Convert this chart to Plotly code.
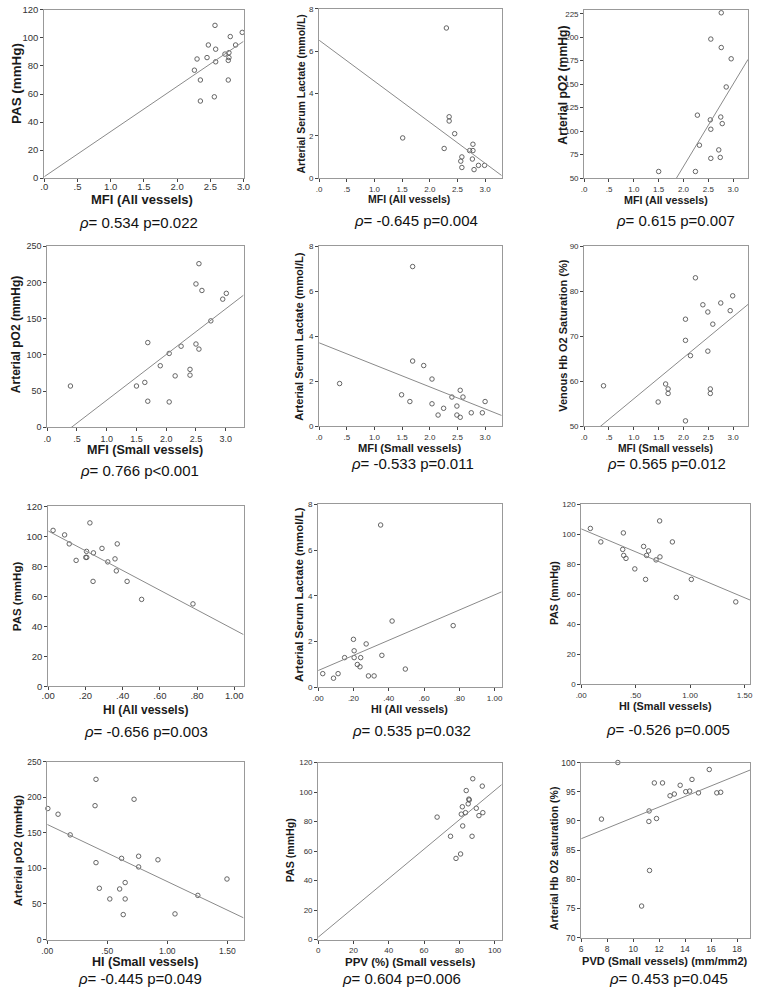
import plotly.graph_objects as go

W, H = 759, 992

# ---------------- data ----------------
# Panel 1: MFI (All vessels) vs PAS
p1_x = [2.57, 2.98, 2.80, 2.47, 2.88, 2.58, 2.72, 2.78, 2.45, 2.30, 2.78, 2.77, 2.58, 2.26, 2.35, 2.77, 2.56, 2.35]
p1_y = [109, 104, 101, 95, 95, 92, 88.5, 89.5, 86, 85, 86, 84, 83, 77, 70, 70, 58, 55]
# Panel 2: MFI (All vessels) vs Arterial Serum Lactate
p2_x = [2.30, 2.35, 2.35, 2.45, 1.51, 2.26, 2.78, 2.72, 2.78, 2.58, 2.77, 2.56, 2.88, 2.99, 2.58, 2.80]
p2_y = [7.1, 2.9, 2.7, 2.1, 1.9, 1.4, 1.6, 1.3, 1.3, 1.0, 0.9, 0.8, 0.6, 0.6, 0.5, 0.4]
# Panel 3: MFI (All vessels) vs Arterial pO2
p3_x = [2.76, 2.55, 2.76, 2.96, 2.86, 2.28, 2.75, 2.54, 2.78, 2.55, 2.32, 2.71, 2.55, 2.74, 1.50, 2.24]
p3_y = [226, 198, 189, 177, 147, 117, 115, 112, 108, 102, 85, 80, 71, 72, 57, 57]
# Panel 4: MFI (Small vessels) vs Arterial pO2
p4_x = [2.55, 2.50, 2.60, 3.01, 2.95, 2.75, 1.69, 2.50, 2.25, 2.55, 2.05, 1.90, 2.40, 2.40, 2.15, 1.64, 1.50, 0.39, 1.69, 2.05]
p4_y = [226, 198, 189, 185, 177, 147, 117, 115, 112, 108, 102, 85, 80, 72, 71, 62, 57, 57, 36, 35]
# Panel 5: MFI (Small vessels) vs Arterial Serum Lactate
p5_x = [1.69, 1.69, 1.89, 2.04, 0.37, 1.49, 2.55, 1.64, 2.40, 2.60, 3.00, 2.04, 2.49, 2.25, 2.75, 2.95, 2.15, 2.49, 2.55]
p5_y = [7.1, 2.9, 2.7, 2.1, 1.9, 1.4, 1.6, 1.1, 1.3, 1.3, 1.1, 1.0, 0.9, 0.8, 0.6, 0.6, 0.5, 0.5, 0.4]
# Panel 6: MFI (Small vessels) vs Venous Hb O2 Saturation
p6_x = [2.24, 2.99, 2.75, 2.39, 2.49, 2.94, 2.04, 2.59, 2.04, 2.49, 2.14, 0.39, 1.64, 1.69, 1.69, 2.54, 2.54, 1.49, 2.04]
p6_y = [83.0, 79.0, 77.4, 77.0, 75.4, 75.7, 73.8, 72.7, 69.1, 66.7, 65.7, 59.0, 59.4, 58.3, 57.3, 58.3, 57.3, 55.4, 51.2]
# Panel 7: HI (All vessels) vs PAS
p7_x = [0.026, 0.088, 0.224, 0.113, 0.371, 0.289, 0.206, 0.243, 0.150, 0.202, 0.207, 0.320, 0.359, 0.366, 0.241, 0.424, 0.502, 0.778]
p7_y = [104, 101, 109, 95, 95, 92, 90, 89, 84, 86, 86, 83, 85, 77, 70, 70, 58, 55]
# Panel 8: HI (All vessels) vs Arterial Serum Lactate
p8_x = [0.354, 0.419, 0.765, 0.200, 0.272, 0.204, 0.361, 0.150, 0.204, 0.241, 0.222, 0.237, 0.494, 0.026, 0.113, 0.087, 0.285, 0.317]
p8_y = [7.1, 2.9, 2.7, 2.1, 1.9, 1.6, 1.4, 1.3, 1.3, 1.3, 1.0, 0.9, 0.8, 0.6, 0.6, 0.4, 0.5, 0.5]
# Panel 9: HI (Small vessels) vs PAS
p9_x = [0.084, 0.18, 0.387, 0.72, 0.837, 0.573, 0.618, 0.381, 0.39, 0.411, 0.60, 0.687, 0.723, 0.492, 0.591, 1.011, 0.873, 1.419]
p9_y = [104, 95, 101, 109, 95, 92, 89, 90, 86, 84, 86, 83, 85, 77, 70, 70, 58, 55]
# Panel 10: HI (Small vessels) vs Arterial pO2
p10_x = [0.406, 0.723, 0.005, 0.398, 0.09, 0.191, 0.761, 0.619, 0.922, 0.406, 0.761, 1.497, 0.649, 0.434, 0.603, 1.254, 0.521, 0.649, 0.633, 1.064]
p10_y = [225, 197, 184, 188, 176, 147, 117, 114, 112, 108, 102, 85, 80, 72, 71, 62, 57, 57, 35, 36]
# Panel 11: PPV (%) (Small vessels) vs PAS
p11_x = [87.6, 93.0, 83.9, 85.4, 85.6, 85.0, 81.7, 89.6, 83.5, 81.1, 93.3, 91.1, 67.4, 81.9, 75.0, 87.2, 80.7, 78.1]
p11_y = [109, 104, 101, 95.2, 94.6, 92, 90, 89, 86, 85, 86, 84, 83, 77, 70, 70, 58, 55]
# Panel 12: PVD (Small vessels) vs Arterial Hb O2 saturation
p12_x = [8.82, 15.86, 12.26, 11.63, 14.53, 13.62, 14.35, 14.05, 16.74, 16.44, 15.03, 13.17, 12.84, 11.23, 7.56, 11.80, 11.21, 11.26, 10.65]
p12_y = [100.0, 98.8, 96.5, 96.5, 97.1, 96.1, 95.1, 95.0, 94.9, 94.8, 94.8, 94.6, 94.3, 91.7, 90.3, 90.4, 89.9, 81.5, 75.4]

# regression lines (intercept, slope)
fit_intercepts = [1.0, 6.52, -113.0, -25.7, 3.71, 47.0, 103.6, 0.735, 103.7, 161.6, 1.56, 81.51]
fit_slopes = [32.2, -1.94, 87.7, 63.1, -0.979, 9.12, -65.8, 3.31, -30.6, -80.2, 0.995, 0.905]

# titles and statistics
x_titles = ["MFI (All vessels)", "MFI (All vessels)", "MFI (All vessels)",
            "MFI (Small vessels)", "MFI (Small vessels)", "MFI (Small vessels)",
            "HI (All vessels)", "HI (All vessels)", "HI (Small vessels)",
            "HI (Small vessels)", "PPV (%) (Small vessels)", "PVD (Small vessels) (mm/mm2)"]
y_titles = ["PAS (mmHg)", "Arterial Serum Lactate (mmol/L)", "Arterial pO2 (mmHg)",
            "Arterial pO2 (mmHg)", "Arterial Serum Lactate (mmol/L)", "Venous Hb O2 Saturation (%)",
            "PAS (mmHg)", "Arterial Serum Lactate (mmol/L)", "PAS (mmHg)",
            "Arterial pO2 (mmHg)", "PAS (mmHg)", "Arterial Hb O2 saturation (%)"]
rho_values = ["0.534", "-0.645", "0.615", "0.766", "-0.533", "0.565",
              "-0.656", "0.535", "-0.526", "-0.445", "0.604", "0.453"]
p_values = ["p=0.022", "p=0.004", "p=0.007", "p<0.001", "p=0.011", "p=0.012",
            "p=0.003", "p=0.032", "p=0.005", "p=0.049", "p=0.006", "p=0.045"]

# tick labels
mfi_ticks = [0, 0.5, 1.0, 1.5, 2.0, 2.5, 3.0]
mfi_ticktext = [".0", ".5", "1.0", "1.5", "2.0", "2.5", "3.0"]
hi_all_ticks = [0, 0.2, 0.4, 0.6, 0.8, 1.0]
hi_all_ticktext = [".00", ".20", ".40", ".60", ".80", "1.00"]
hi_small_ticks = [0, 0.5, 1.0, 1.5]
hi_small_ticktext = [".00", ".50", "1.00", "1.50"]
ppv_ticks = [0, 20, 40, 60, 80, 100]
pvd_ticks = [6, 8, 10, 12, 14, 16, 18]
pas_ticks = [0, 20, 40, 60, 80, 100, 120]
lact_ticks = [0, 2, 4, 6, 8]
po2_ticks_a = [50, 75, 100, 125, 150, 175, 200, 225]
po2_ticks_b = [0, 50, 100, 150, 200, 250]
svo2_ticks = [50, 60, 70, 80, 90]
sao2_ticks = [70, 75, 80, 85, 90, 95, 100]

# ---------------- layout (pixel boxes) ----------------
xs = [p1_x, p2_x, p3_x, p4_x, p5_x, p6_x, p7_x, p8_x, p9_x, p10_x, p11_x, p12_x]
ys = [p1_y, p2_y, p3_y, p4_y, p5_y, p6_y, p7_y, p8_y, p9_y, p10_y, p11_y, p12_y]

boxes = [(38, 241, 4, 174), (318, 504, 3, 174), (588, 755, 4, 174),
         (41, 241, 243, 426), (318, 504, 243, 425), (588, 755, 243, 425),
         (42, 241, 506, 688), (317, 504, 504, 689), (585, 757, 504, 686),
         (41, 241, 764, 944), (317, 504, 765, 944), (585, 757, 765, 942)]
x_ranges = [(0, 3.0), (0, 3.3), (0, 3.3), (0, 3.3), (0, 3.3), (0, 3.3),
            (0, 1.05), (0, 1.04), (0, 1.55), (0, 1.635), (0, 104), (6, 19)]
y_ranges = [(0, 120), (0, 8), (50, 229), (0, 250), (0, 8), (50, 90),
            (0, 120), (0, 8), (0, 120), (0, 250), (0, 120), (70, 100)]
x_tickvals = [mfi_ticks] * 6 + [hi_all_ticks, hi_all_ticks, hi_small_ticks, hi_small_ticks, ppv_ticks, pvd_ticks]
x_ticktext = [mfi_ticktext] * 6 + [hi_all_ticktext, hi_all_ticktext, hi_small_ticktext, hi_small_ticktext,
                                   [str(v) for v in ppv_ticks], [str(v) for v in pvd_ticks]]
y_tickvals = [pas_ticks, lact_ticks, po2_ticks_a, po2_ticks_b, lact_ticks, svo2_ticks,
              pas_ticks, lact_ticks, pas_ticks, po2_ticks_b, pas_ticks, sao2_ticks]
tick_sizes = [9.5, 8, 8, 9, 8, 8, 9.5, 8, 8, 8.5, 8, 8.5]
x_label_standoff = [-3, 0, 0, 0, 0, 0, -3, 0, 0, 0, 0, 0]
xt_sizes = [13, 10.5, 10.7, 12.6, 11.2, 10.3, 12, 10.8, 10.9, 12.5, 11.5, 11.1]
yt_sizes = [13.4, 10.5, 12.2, 12, 11.1, 11, 11.5, 11.5, 10.6, 11.4, 10.6, 10.5]
xt_pos = [(138, 196), (410, 195), (671, 196), (141, 449), (410, 447), (671, 447),
          (141, 712), (410, 711), (671, 708), (141, 967), (411, 967), (670, 966)]
yt_pos = [(9, 78), (300, 89), (567, 80), (10, 332), (298, 334), (567, 333),
          (11, 597), (298, 595), (558, 594), (11, 854), (288, 854), (558, 862)]
rho_pos = [(134, 219), (417, 217), (681, 217), (135, 470), (413, 463), (672, 463),
           (142, 734), (412, 733), (673, 732), (136, 983), (402, 983), (674, 983)]

FONT = "Liberation Sans, Arial, sans-serif"
fig = go.Figure()
annotations = []
layout_axes = {}

for i in range(12):
    n = "" if i == 0 else str(i + 1)
    xa, ya = "x" + n, "y" + n
    l, r, t, b = boxes[i]
    x0, x1 = x_ranges[i]
    fig.add_trace(go.Scatter(
        x=xs[i], y=ys[i], mode="markers", xaxis=xa, yaxis=ya, showlegend=False,
        marker=dict(symbol="circle-open", size=4.5, color="#555555", line=dict(width=0.9, color="#555555")),
        cliponaxis=False, hoverinfo="x+y"))
    fx = [x0, x1]
    fy = [fit_intercepts[i] + fit_slopes[i] * v for v in fx]
    fig.add_trace(go.Scatter(
        x=fx, y=fy, mode="lines", xaxis=xa, yaxis=ya, showlegend=False,
        line=dict(color="#8a8a8a", width=1), hoverinfo="skip"))
    common = dict(showgrid=False, zeroline=False, showline=True, mirror=True,
                  linecolor="#999999", linewidth=1, ticks="outside", ticklen=3,
                  tickwidth=1, tickcolor="#444444",
                  tickfont=dict(family=FONT, size=tick_sizes[i], color="#333333"))
    layout_axes["xaxis" + n] = dict(
        domain=[l / W, r / W], range=[x0, x1], anchor=ya,
        tickmode="array", tickvals=x_tickvals[i], ticktext=x_ticktext[i],
        ticklabelstandoff=x_label_standoff[i], **common)
    layout_axes["yaxis" + n] = dict(
        domain=[1 - b / H, 1 - t / H], range=list(y_ranges[i]), anchor=xa,
        tickmode="array", tickvals=y_tickvals[i], **common)
    annotations.append(dict(
        text="<b>" + x_titles[i] + "</b>", x=xt_pos[i][0] / W, y=1 - xt_pos[i][1] / H,
        xref="paper", yref="paper", showarrow=False, xanchor="center", yanchor="middle",
        font=dict(family=FONT, size=xt_sizes[i], color="#1a1a1a")))
    annotations.append(dict(
        text="<b>" + y_titles[i] + "</b>", x=yt_pos[i][0] / W, y=1 - yt_pos[i][1] / H,
        xref="paper", yref="paper", showarrow=False, xanchor="center", yanchor="middle",
        textangle=-90, font=dict(family=FONT, size=yt_sizes[i], color="#1a1a1a")))
    annotations.append(dict(
        text="<i>ρ</i>= " + rho_values[i] + " " + p_values[i],
        x=rho_pos[i][0] / W, y=1 - rho_pos[i][1] / H,
        xref="paper", yref="paper", showarrow=False, xanchor="center", yanchor="middle",
        font=dict(family=FONT, size=15, color="#111111")))

fig.update_layout(
    width=W, height=H, margin=dict(l=0, r=0, t=0, b=0),
    paper_bgcolor="white", plot_bgcolor="white",
    annotations=annotations, **layout_axes)

fig.write_html("out.html", config={"displayModeBar": False},
               post_script="document.body.style.margin='0';document.body.style.overflow='hidden';")
